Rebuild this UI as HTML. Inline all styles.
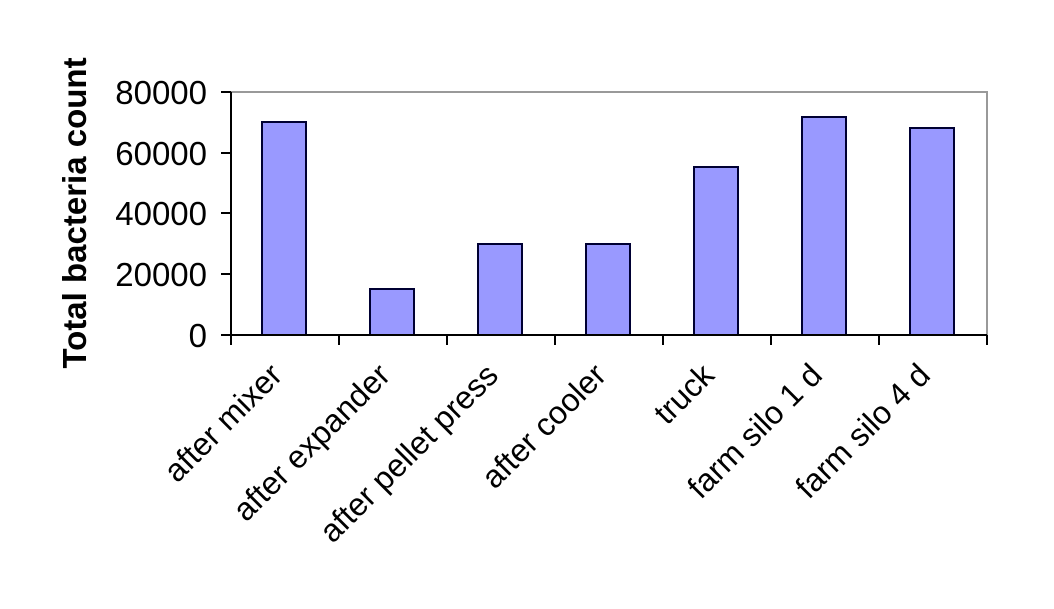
<!DOCTYPE html>
<html><head><style>body{margin:0;background:#fff}svg{display:block}</style></head>
<body>
<svg width="1054" height="609" xmlns="http://www.w3.org/2000/svg" font-family="Liberation Sans, Arial, sans-serif">
<rect width="1054" height="609" fill="#fff"/>
<rect x="231" y="92" width="756" height="243" fill="#fff" stroke="#999" stroke-width="2"/>
<g fill="#9999ff" stroke="#000033" stroke-width="2">
<rect x="262" y="122" width="44" height="213"/>
<rect x="370" y="289" width="44" height="46"/>
<rect x="478" y="244" width="44" height="91"/>
<rect x="586" y="244" width="44" height="91"/>
<rect x="694" y="167" width="44" height="168"/>
<rect x="802" y="117" width="44" height="218"/>
<rect x="910" y="128" width="44" height="207"/>
</g>
<g stroke="#000" stroke-width="2">
<line x1="231" y1="92" x2="231" y2="335"/>
<line x1="221" y1="335" x2="987" y2="335"/>
<line x1="221" y1="92" x2="231" y2="92"/>
<line x1="221" y1="153" x2="231" y2="153"/>
<line x1="221" y1="213" x2="231" y2="213"/>
<line x1="221" y1="274" x2="231" y2="274"/>
<line x1="231" y1="335" x2="231" y2="345"/>
<line x1="339" y1="335" x2="339" y2="345"/>
<line x1="447" y1="335" x2="447" y2="345"/>
<line x1="555" y1="335" x2="555" y2="345"/>
<line x1="663" y1="335" x2="663" y2="345"/>
<line x1="771" y1="335" x2="771" y2="345"/>
<line x1="879" y1="335" x2="879" y2="345"/>
<line x1="987" y1="335" x2="987" y2="345"/>
</g>
<g font-size="33" text-anchor="end" fill="#000">
<text x="207" y="104">80000</text>
<text x="207" y="165">60000</text>
<text x="207" y="225">40000</text>
<text x="207" y="286">20000</text>
<text x="207" y="347">0</text>
</g>
<text transform="translate(86,213) rotate(-90)" font-size="33" font-weight="bold" text-anchor="middle">Total bacteria count</text>
<g font-size="32" text-anchor="end" fill="#000">
<text transform="translate(284,377) rotate(-45)">after mixer</text>
<text transform="translate(392,377) rotate(-45)">after expander</text>
<text transform="translate(500,377) rotate(-45)">after pellet press</text>
<text transform="translate(608,377) rotate(-45)">after cooler</text>
<text transform="translate(716,377) rotate(-45)">truck</text>
<text transform="translate(824,377) rotate(-45)">farm silo 1 d</text>
<text transform="translate(932,377) rotate(-45)">farm silo 4 d</text>
</g>
</svg>
</body></html>
